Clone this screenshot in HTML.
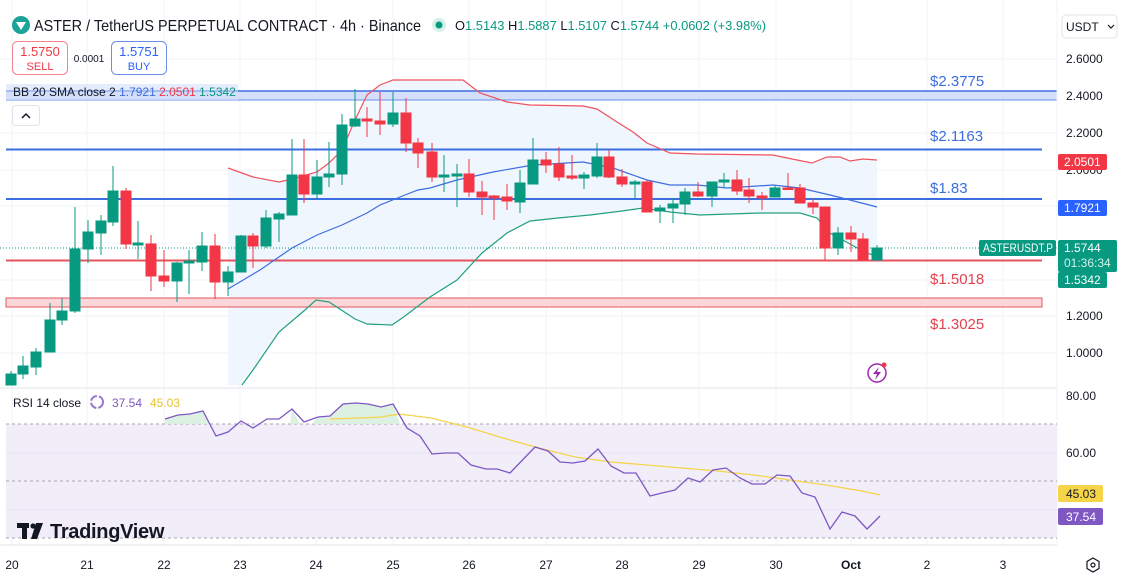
<!DOCTYPE html>
<html><head><meta charset="utf-8"><style>
html,body{margin:0;padding:0;background:#fff;width:1122px;height:583px;overflow:hidden;font-family:"Liberation Sans",sans-serif}
svg{display:block}
</style></head><body>
<svg width="1122" height="583" viewBox="0 0 1122 583" xmlns="http://www.w3.org/2000/svg" font-family="Liberation Sans, sans-serif">
<rect width="1122" height="583" fill="#fff"/>
<g stroke="#f0f3fa" stroke-width="1">
<line x1="0" y1="59" x2="1057" y2="59"/><line x1="0" y1="96" x2="1057" y2="96"/><line x1="0" y1="133" x2="1057" y2="133"/><line x1="0" y1="170" x2="1057" y2="170"/><line x1="0" y1="206" x2="1057" y2="206"/><line x1="0" y1="243" x2="1057" y2="243"/><line x1="0" y1="280" x2="1057" y2="280"/><line x1="0" y1="316" x2="1057" y2="316"/><line x1="0" y1="353" x2="1057" y2="353"/>
<line x1="12" y1="0" x2="12" y2="545"/><line x1="87" y1="0" x2="87" y2="545"/><line x1="164" y1="0" x2="164" y2="545"/><line x1="240" y1="0" x2="240" y2="545"/><line x1="316" y1="0" x2="316" y2="545"/><line x1="393" y1="0" x2="393" y2="545"/><line x1="469" y1="0" x2="469" y2="545"/><line x1="546" y1="0" x2="546" y2="545"/><line x1="622" y1="0" x2="622" y2="545"/><line x1="699" y1="0" x2="699" y2="545"/><line x1="776" y1="0" x2="776" y2="545"/><line x1="851" y1="0" x2="851" y2="545"/><line x1="927" y1="0" x2="927" y2="545"/><line x1="1003" y1="0" x2="1003" y2="545"/>
</g>
<polygon fill="#eef5fd" opacity="0.9" points="228,168 253,177 279,182 292,179 317,172 329,163 342,150 355,120 367,95 380,85 393,80 430,80 463,80 480,93 507,102 530,105 583,106 597,109 617,122 633,132 647,143 670,153 697,154 773,155 797,160 812,163 827,157 840,157 850,161 863,159 877,160 877,256 866,253 850,244 830,233 817,218 800,213 760,213 700,215 670,212 643,208 622,211 590,215 558,218 530,221 507,233 482,253 457,280 430,298 405,316 392,325 367,324 355,319 329,302 316,300 305,310 279,332 253,370 242,385 228,385"/>
<rect x="6" y="91" width="1051" height="9" fill="#d3dffb"/>
<line x1="6" y1="91" x2="1057" y2="91" stroke="#3d6ee0" stroke-width="1.5"/>
<line x1="6" y1="100" x2="1057" y2="100" stroke="#6b8fe8" stroke-width="1"/>
<line x1="6" y1="149.5" x2="1042" y2="149.5" stroke="#3d6ee0" stroke-width="2"/>
<line x1="6" y1="199" x2="1042" y2="199" stroke="#3d6ee0" stroke-width="2"/>
<line x1="6" y1="260.5" x2="1042" y2="260.5" stroke="#e5545e" stroke-width="2"/>
<rect x="6" y="298" width="1036" height="9" fill="#fcd7d9" stroke="#e5545e" stroke-width="1"/>
<line x1="0" y1="248" x2="1057" y2="248" stroke="#089981" stroke-width="1" stroke-dasharray="1,2"/>
<polyline fill="none" stroke="#f0525e" stroke-width="1.2" points="228,168 253,177 279,182 292,179 317,172 329,163 342,150 355,120 367,95 380,85 393,80 430,80 463,80 480,93 507,102 530,105 583,106 597,109 617,122 633,132 647,143 670,153 697,154 773,155 797,160 812,163 827,157 840,157 850,161 863,159 877,160"/>
<polyline fill="none" stroke="#3d6ee0" stroke-width="1.2" points="228,289 260,270 292,248 317,235 342,225 367,213 380,205 405,195 418,190 430,188 457,180 493,172 533,165 583,162 613,168 647,180 670,185 697,185 727,188 773,185 800,188 830,195 850,200 877,207"/>
<polyline fill="none" stroke="#22a07e" stroke-width="1.2" points="242,385 253,370 279,332 305,310 316,300 329,302 355,319 367,324 392,325 405,316 430,297 457,280 482,253 507,233 530,221 558,218 590,215 622,211 643,208 670,212 700,215 760,213 800,213 817,218 830,233 850,244 866,253 877,256"/>
<g stroke-width="1">
<g fill="#089981" stroke="#089981">
<line x1="11" y1="371" x2="11" y2="385"/><rect x="6" y="374" width="10" height="11"/>
<line x1="23" y1="356" x2="23" y2="379"/><rect x="18" y="366" width="10" height="8"/>
<line x1="36" y1="348" x2="36" y2="375"/><rect x="31" y="352" width="10" height="15"/>
<line x1="50" y1="303" x2="50" y2="352"/><rect x="45" y="320" width="10" height="32"/>
<line x1="62" y1="298" x2="62" y2="325"/><rect x="57" y="311" width="10" height="9"/>
<line x1="75" y1="207" x2="75" y2="313"/><rect x="70" y="249" width="10" height="62"/>
<line x1="88" y1="220" x2="88" y2="263"/><rect x="83" y="232" width="10" height="17"/>
<line x1="101" y1="215" x2="101" y2="255"/><rect x="96" y="221" width="10" height="12"/>
<line x1="113" y1="166" x2="113" y2="226"/><rect x="108" y="191" width="10" height="31"/>
<line x1="138" y1="221" x2="138" y2="259"/><rect x="133" y="243" width="10" height="2"/>
<line x1="177" y1="262" x2="177" y2="302"/><rect x="172" y="263" width="10" height="18"/>
<line x1="189" y1="250" x2="189" y2="294"/><rect x="184" y="261" width="10" height="2"/>
<line x1="202" y1="232" x2="202" y2="271"/><rect x="197" y="246" width="10" height="16"/>
<line x1="228" y1="266" x2="228" y2="296"/><rect x="223" y="272" width="10" height="10"/>
<line x1="241" y1="235" x2="241" y2="272"/><rect x="236" y="236" width="10" height="36"/>
<line x1="266" y1="210" x2="266" y2="248"/><rect x="261" y="218" width="10" height="28"/>
<line x1="279" y1="212" x2="279" y2="242"/><rect x="274" y="214" width="10" height="5"/>
<line x1="292" y1="139" x2="292" y2="215"/><rect x="287" y="175" width="10" height="40"/>
<line x1="317" y1="160" x2="317" y2="199"/><rect x="312" y="177" width="10" height="17"/>
<line x1="329" y1="142" x2="329" y2="187"/><rect x="324" y="174" width="10" height="3"/>
<line x1="342" y1="114" x2="342" y2="185"/><rect x="337" y="125" width="10" height="49"/>
<line x1="355" y1="89" x2="355" y2="127"/><rect x="350" y="119" width="10" height="7"/>
<line x1="393" y1="92" x2="393" y2="127"/><rect x="388" y="113" width="10" height="11"/>
<line x1="444" y1="155" x2="444" y2="192"/><rect x="439" y="175" width="10" height="2"/>
<line x1="457" y1="164" x2="457" y2="207"/><rect x="452" y="174" width="10" height="2"/>
<line x1="520" y1="170" x2="520" y2="213"/><rect x="515" y="183" width="10" height="19"/>
<line x1="533" y1="138" x2="533" y2="184"/><rect x="528" y="160" width="10" height="24"/>
<line x1="584" y1="172" x2="584" y2="189"/><rect x="579" y="175" width="10" height="3"/>
<line x1="597" y1="143" x2="597" y2="178"/><rect x="592" y="157" width="10" height="19"/>
<line x1="635" y1="180" x2="635" y2="198"/><rect x="630" y="182" width="10" height="2"/>
<line x1="660" y1="205" x2="660" y2="223"/><rect x="655" y="208" width="10" height="3"/>
<line x1="673" y1="198" x2="673" y2="223"/><rect x="668" y="204" width="10" height="4"/>
<line x1="685" y1="188" x2="685" y2="215"/><rect x="680" y="192" width="10" height="12"/>
<line x1="712" y1="182" x2="712" y2="207"/><rect x="707" y="182" width="10" height="14"/>
<line x1="724" y1="173" x2="724" y2="188"/><rect x="719" y="180" width="10" height="2"/>
<line x1="775" y1="185" x2="775" y2="197"/><rect x="770" y="188" width="10" height="9"/>
<line x1="838" y1="227" x2="838" y2="255"/><rect x="833" y="233" width="10" height="15"/>
<line x1="877" y1="245" x2="877" y2="260"/><rect x="872" y="248" width="10" height="12"/>
</g>
<g fill="#f23645" stroke="#f23645">
<line x1="126" y1="188" x2="126" y2="249"/><rect x="121" y="191" width="10" height="53"/>
<line x1="151" y1="235" x2="151" y2="291"/><rect x="146" y="244" width="10" height="32"/>
<line x1="164" y1="250" x2="164" y2="287"/><rect x="159" y="276" width="10" height="5"/>
<line x1="215" y1="234" x2="215" y2="299"/><rect x="210" y="246" width="10" height="36"/>
<line x1="253" y1="233" x2="253" y2="268"/><rect x="248" y="236" width="10" height="10"/>
<line x1="304" y1="139" x2="304" y2="203"/><rect x="299" y="175" width="10" height="19"/>
<line x1="367" y1="107" x2="367" y2="137"/><rect x="362" y="119" width="10" height="2"/>
<line x1="380" y1="92" x2="380" y2="135"/><rect x="375" y="121" width="10" height="3"/>
<line x1="406" y1="98" x2="406" y2="152"/><rect x="401" y="113" width="10" height="30"/>
<line x1="418" y1="138" x2="418" y2="168"/><rect x="413" y="143" width="10" height="10"/>
<line x1="432" y1="143" x2="432" y2="182"/><rect x="427" y="152" width="10" height="25"/>
<line x1="469" y1="159" x2="469" y2="197"/><rect x="464" y="174" width="10" height="18"/>
<line x1="482" y1="181" x2="482" y2="215"/><rect x="477" y="192" width="10" height="5"/>
<line x1="494" y1="195" x2="494" y2="220"/><rect x="489" y="196" width="10" height="2"/>
<line x1="507" y1="184" x2="507" y2="210"/><rect x="502" y="197" width="10" height="4"/>
<line x1="546" y1="152" x2="546" y2="173"/><rect x="541" y="160" width="10" height="5"/>
<line x1="559" y1="147" x2="559" y2="181"/><rect x="554" y="164" width="10" height="13"/>
<line x1="572" y1="155" x2="572" y2="180"/><rect x="567" y="176" width="10" height="2"/>
<line x1="609" y1="150" x2="609" y2="178"/><rect x="604" y="157" width="10" height="20"/>
<line x1="622" y1="169" x2="622" y2="187"/><rect x="617" y="177" width="10" height="7"/>
<line x1="647" y1="180" x2="647" y2="212"/><rect x="642" y="182" width="10" height="30"/>
<line x1="698" y1="182" x2="698" y2="197"/><rect x="693" y="192" width="10" height="4"/>
<line x1="737" y1="170" x2="737" y2="195"/><rect x="732" y="180" width="10" height="11"/>
<line x1="749" y1="178" x2="749" y2="203"/><rect x="744" y="190" width="10" height="6"/>
<line x1="762" y1="192" x2="762" y2="210"/><rect x="757" y="196" width="10" height="2"/>
<line x1="788" y1="173" x2="788" y2="189"/><rect x="783" y="188" width="10" height="1.5"/>
<line x1="800" y1="184" x2="800" y2="203"/><rect x="795" y="188" width="10" height="15"/>
<line x1="813" y1="199" x2="813" y2="214"/><rect x="808" y="203" width="10" height="4"/>
<line x1="825" y1="207" x2="825" y2="260"/><rect x="820" y="207" width="10" height="41"/>
<line x1="851" y1="226" x2="851" y2="252"/><rect x="846" y="233" width="10" height="6"/>
<line x1="863" y1="233" x2="863" y2="260"/><rect x="858" y="239" width="10" height="21"/>
</g>
</g>
<g font-size="15">
<text x="930" y="86" fill="#3d6ee0">$2.3775</text>
<text x="930" y="141" fill="#3d6ee0">$2.1163</text>
<text x="930" y="193" fill="#3d6ee0">$1.83</text>
<text x="930" y="284" fill="#e5414e">$1.5018</text>
<text x="930" y="329" fill="#e5414e">$1.3025</text>
</g>
<circle cx="877" cy="373" r="9" fill="none" stroke="#9c27b0" stroke-width="1.5"/>
<path d="M879 367 L873 374 L877 374 L875 380 L881 372 L877 372 Z" fill="#9c27b0"/>
<circle cx="884" cy="365" r="2.5" fill="#f23645"/>
<line x1="0" y1="388" x2="1057" y2="388" stroke="#e0e3eb" stroke-width="1"/>
<line x1="1057" y1="0" x2="1057" y2="545" stroke="#f0f3fa"/>
<rect x="6" y="424" width="1051" height="114" fill="#f1eefa"/>
<line x1="6" y1="453" x2="1057" y2="453" stroke="#e6e2f2"/>
<line x1="6" y1="510" x2="1057" y2="510" stroke="#e6e2f2"/>
<g stroke="#a7a3b3" stroke-width="1" stroke-dasharray="3,3">
<line x1="6" y1="424" x2="1057" y2="424"/><line x1="6" y1="481" x2="1057" y2="481"/><line x1="6" y1="538" x2="1057" y2="538"/>
</g>
<polygon fill="#d8f0de" opacity="0.9" points="165,424 165,419 178,415 190,414 203,411 210,424"/>
<polygon fill="#d8f0de" opacity="0.9" points="290,424 292,409 300,424"/>
<polygon fill="#d8f0de" opacity="0.9" points="312,424 318,417 330,416 343,404 356,403 368,404 381,407 393,404 400,424"/>
<polyline fill="none" stroke="#f5d44a" stroke-width="1.3" points="330,419 359,418 381,417 399,414 431,418 467,427 503,438 539,448 575,457 611,462 647,465 682,468 718,471 754,475 790,480 826,485 862,491 880,495"/>
<polyline fill="none" stroke="#7e57c2" stroke-width="1.3" points="165,419 178,415 190,414 203,411 216,436 228,432 241,421 253,428 267,419 279,419 292,409 304,422 318,417 330,416 343,404 356,403 368,404 381,407 393,404 407,428 420,436 432,454 445,453 458,453 471,465 486,469 497,469 510,473 535,447 548,451 560,462 573,463 585,461 598,449 611,466 624,473 636,473 650,496 662,493 675,490 688,478 700,482 713,470 726,468 740,478 752,484 765,484 777,475 790,476 802,493 815,497 830,529 842,512 855,516 867,529 880,516"/>
<g font-size="12" fill="#131722">
<text x="1066" y="400">80.00</text>
<text x="1066" y="457">60.00</text>
</g>
<rect x="1058" y="485" width="45" height="17" rx="2" fill="#f5d44a"/>
<text x="1066" y="498" font-size="12" fill="#131722">45.03</text>
<rect x="1058" y="508" width="45" height="17" rx="2" fill="#7e57c2"/>
<text x="1066" y="521" font-size="12" fill="#fff">37.54</text>
<text x="13" y="407" font-size="12" fill="#131722">RSI 14 close</text>
<circle cx="97" cy="402" r="6" fill="none" stroke="#9575cd" stroke-width="2" stroke-dasharray="8,2"/>
<text x="112" y="407" font-size="12" fill="#7e57c2">37.54</text>
<text x="150" y="407" font-size="12" fill="#e8c32c">45.03</text>
<g fill="#131722">
<rect x="17" y="523" width="12" height="5"/><rect x="22" y="523" width="5" height="16"/>
<circle cx="33" cy="526" r="2.6"/>
<polygon points="36,523 43,523 37,539 31,539"/>
<text x="50" y="538" font-size="20" font-weight="bold" letter-spacing="-0.3">TradingView</text>
</g>
<line x1="0" y1="545" x2="1057" y2="545" stroke="#e0e3eb"/>
<g font-size="12" fill="#131722" text-anchor="middle">
<text x="12" y="569">20</text><text x="87" y="569">21</text><text x="164" y="569">22</text><text x="240" y="569">23</text><text x="316" y="569">24</text><text x="393" y="569">25</text><text x="469" y="569">26</text><text x="546" y="569">27</text><text x="622" y="569">28</text><text x="699" y="569">29</text><text x="776" y="569">30</text><text x="851" y="569" font-weight="bold">Oct</text><text x="927" y="569">2</text><text x="1003" y="569">3</text>
</g>
<polygon points="1093,558 1099,561.5 1099,568.5 1093,572 1087,568.5 1087,561.5" fill="none" stroke="#131722" stroke-width="1.2"/>
<circle cx="1093" cy="565" r="2" fill="none" stroke="#131722" stroke-width="1.2"/>
<g font-size="12" fill="#131722">
<text x="1066" y="63">2.6000</text><text x="1066" y="100">2.4000</text><text x="1066" y="137">2.2000</text><text x="1066" y="174">2.0000</text><text x="1066" y="320">1.2000</text><text x="1066" y="357">1.0000</text>
</g>
<rect x="1058" y="154" width="49" height="16" rx="2" fill="#f23645"/>
<text x="1064" y="166" font-size="12" fill="#fff">2.0501</text>
<rect x="1058" y="200" width="49" height="16" rx="2" fill="#2962ff"/>
<text x="1064" y="212" font-size="12" fill="#fff">1.7921</text>
<rect x="979" y="240" width="77" height="16" rx="2" fill="#089981"/>
<text x="983" y="252" font-size="12" fill="#fff" textLength="70" lengthAdjust="spacingAndGlyphs">ASTERUSDT.P</text>
<rect x="1058" y="240" width="59" height="32" rx="2" fill="#089981"/>
<text x="1064" y="252" font-size="12" fill="#fff">1.5744</text>
<text x="1064" y="267" font-size="12" fill="#d4f0ea">01:36:34</text>
<rect x="1058" y="272" width="49" height="16" rx="2" fill="#089981"/>
<text x="1064" y="284" font-size="12" fill="#fff">1.5342</text>
<rect x="1062" y="15" width="55" height="23" rx="4" fill="#fff" stroke="#e0e3eb"/>
<text x="1066" y="31" font-size="12" fill="#131722">USDT</text>
<path d="M1108 25 L1111 28 L1114 25" fill="none" stroke="#131722" stroke-width="1.2"/>
<circle cx="21" cy="25" r="9" fill="#1ba39a"/>
<path d="M16 22 L26 22 L21 30 Z" fill="#fff"/>
<text x="34" y="31" font-size="16" fill="#131722" textLength="387" lengthAdjust="spacingAndGlyphs">ASTER / TetherUS PERPETUAL CONTRACT · 4h · Binance</text>
<circle cx="439" cy="25" r="7" fill="#d7f0ea"/><circle cx="439" cy="25" r="3.5" fill="#089981"/>
<text x="455" y="30" font-size="13" fill="#131722" textLength="311" lengthAdjust="spacingAndGlyphs">O<tspan fill="#089981">1.5143</tspan> H<tspan fill="#089981">1.5887</tspan> L<tspan fill="#089981">1.5107</tspan> C<tspan fill="#089981">1.5744 +0.0602 (+3.98%)</tspan></text>
<rect x="12.5" y="41.5" width="55" height="33" rx="5" fill="#fff" stroke="#f2858d"/>
<text x="40" y="56" font-size="13" fill="#f23645" text-anchor="middle">1.5750</text>
<text x="40" y="70" font-size="11" fill="#f23645" text-anchor="middle">SELL</text>
<text x="89" y="62" font-size="10" fill="#131722" text-anchor="middle">0.0001</text>
<rect x="111.5" y="41.5" width="55" height="33" rx="5" fill="#fff" stroke="#6b8fe8"/>
<text x="139" y="56" font-size="13" fill="#2962ff" text-anchor="middle">1.5751</text>
<text x="139" y="70" font-size="11" fill="#2962ff" text-anchor="middle">BUY</text>
<rect x="6" y="84" width="232" height="16" fill="#d3dffb" opacity="0.6"/>
<text x="13" y="96" font-size="12" fill="#131722">BB 20 SMA close 2 <tspan fill="#3d6ee0">1.7921</tspan> <tspan fill="#f23645">2.0501</tspan> <tspan fill="#089981">1.5342</tspan></text>
<rect x="12.5" y="105.5" width="27" height="20" rx="3" fill="#fff" stroke="#e0e3eb"/>
<path d="M22 118 L26 114 L30 118" fill="none" stroke="#131722" stroke-width="1.5"/>
</svg>
</body></html>
